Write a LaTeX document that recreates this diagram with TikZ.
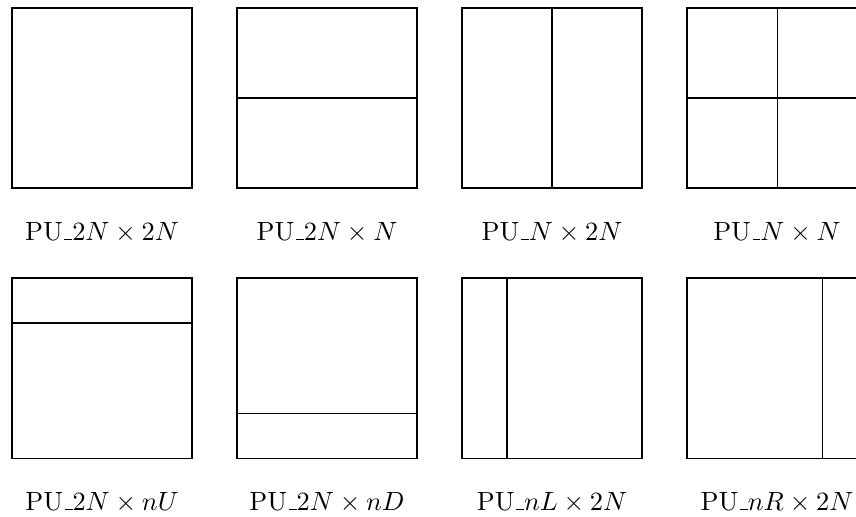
\documentclass[tikz,border=0pt]{standalone}
\usetikzlibrary{positioning,calc}

\newcommand{\puname}{PU\kern.06em\vbox{\hrule width.3em}}

\tikzset{
  pubox/.style={draw, minimum size=2.4cm, inner sep=0pt, outer sep=0pt},
  pulabel/.style={below=0.33cm of #1}
}

\begin{document}
\begin{tikzpicture}
  \useasboundingbox (0,0) rectangle (11.413,-6.88);
  % first row
  \node[pubox, anchor=north west] (sq) at (0.16,-0.107) {};
  \node[pubox, right=0.6cm of sq] (hn) {};
  \node[pubox, right=0.6cm of hn] (nv) {};
  \node[pubox, right=0.6cm of nv] (nn) {};
  \draw (hn.west)--(hn.east);
  \draw (nv.north)--(nv.south);
  \draw (nn.west)--(nn.east);
  \draw (nn.north)--(nn.south);
  \node[pulabel=sq] (lsq) {\puname$2N\times 2N$};
  \node[pulabel=hn] (lhn) {\puname$2N\times N$};
  \node[pulabel=nv] (lnv) {\puname$N\times 2N$};
  \node[pulabel=nn] (lnn) {\puname$N\times N$};
  % second row
  \node[pubox, anchor=north west] (nu) at (0.16,-3.707) {};
  \node[pubox, right=0.6cm of nu] (nd) {};
  \node[pubox, right=0.6cm of nd] (nl) {};
  \node[pubox, right=0.6cm of nl] (nr) {};
  \draw ($(nu.north west)!0.25!(nu.south west)$)--($(nu.north east)!0.25!(nu.south east)$);
  \draw ($(nd.north west)!0.75!(nd.south west)$)--($(nd.north east)!0.75!(nd.south east)$);
  \draw ($(nl.north west)!0.25!(nl.north east)$)--($(nl.south west)!0.25!(nl.south east)$);
  \draw ($(nr.north west)!0.75!(nr.north east)$)--($(nr.south west)!0.75!(nr.south east)$);
  \node[pulabel=nu] (lnu) {\puname$2N\times nU$};
  \node[pulabel=nd] (lnd) {\puname$2N\times nD$};
  \node[pulabel=nl] (lnl) {\puname$nL\times 2N$};
  \node[pulabel=nr] (lnr) {\puname$nR\times 2N$};
\end{tikzpicture}
\end{document}
